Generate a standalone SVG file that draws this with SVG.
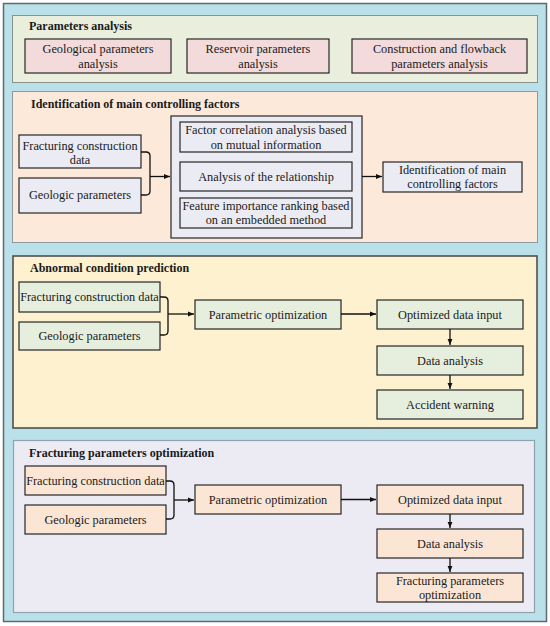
<svg xmlns="http://www.w3.org/2000/svg" width="550" height="626" viewBox="0 0 550 626" font-family="'Liberation Serif', 'Times New Roman', 'DejaVu Serif', serif">
<defs>
<marker id="ah" viewBox="0 0 10 10" refX="10" refY="5" markerWidth="6" markerHeight="6" markerUnits="userSpaceOnUse" orient="auto">
<path d="M0,1 L10,5 L0,9 Z" fill="#111"/>
</marker>
</defs>
<style>
text{font-family:'Liberation Serif','Times New Roman','DejaVu Serif',serif;font-size:12.3px;fill:#1a1a1a;text-anchor:middle}
.t{font-weight:bold;font-size:12px;text-anchor:start}
.b{stroke:#262626;stroke-width:1.2}
.p1{fill:#f2dbda}
.p2{fill:#ebebf3}
.p3{fill:#e6eedd}
.p4{fill:#fbe6d5}
.c{fill:none;stroke:#111;stroke-width:1.3}
</style>
<rect x="3.5" y="3.5" width="543" height="618" fill="#bae0e9" stroke="#5f6a70" stroke-width="1.5"/>

<g id="sec1">
<rect x="12.5" y="15.5" width="525" height="67" fill="#e9efdc" stroke="#85948c" stroke-width="1"/>
<text class="t" x="29" y="30">Parameters analysis</text>
</g>
<g id="geo1"><rect class="b p1" x="25" y="39" width="146" height="34"/><text x="98" y="53">Geological parameters</text><text x="98" y="68">analysis</text></g>
<g id="res1"><rect class="b p1" x="187" y="39" width="142" height="34"/><text x="258" y="53">Reservoir parameters</text><text x="258" y="68">analysis</text></g>
<g id="con1"><rect class="b p1" x="352" y="39" width="175" height="34"/><text x="439.5" y="53">Construction and flowback</text><text x="439.5" y="68">parameters analysis</text></g>

<g id="sec2">
<rect x="12.5" y="91.5" width="525" height="151" fill="#fde9da" stroke="#8c9aa0" stroke-width="1"/>
<text class="t" x="31" y="108">Identification of main controlling factors</text>
</g>
<g id="frac2"><rect class="b p2" x="19" y="135" width="122" height="33"/><text x="80" y="150">Fracturing construction</text><text x="80" y="164">data</text></g>
<g id="geol2"><rect class="b p2" x="19" y="178" width="122" height="35"/><text x="80" y="199">Geologic parameters</text></g>
<g id="cont2"><rect class="b p2" x="171" y="116" width="191" height="122"/></g>
<g id="fc2"><rect class="b p2" x="180" y="122" width="172" height="30"/><text x="266" y="134">Factor correlation analysis based</text><text x="266" y="149">on mutual information</text></g>
<g id="ar2"><rect class="b p2" x="180" y="162" width="172" height="29"/><text x="266" y="181">Analysis of the relationship</text></g>
<g id="fi2"><rect class="b p2" x="180" y="198" width="172" height="30"/><text x="266" y="210">Feature importance ranking based</text><text x="266" y="224">on an embedded method</text></g>
<g id="id2"><rect class="b p2" x="383" y="162" width="139" height="30"/><text x="452.5" y="174">Identification of main</text><text x="452.5" y="188">controlling factors</text></g>

<g id="sec3">
<rect x="13" y="256" width="524" height="172" fill="#fdf1cf" stroke="#4f4f4f" stroke-width="1.6"/>
<text class="t" x="30" y="272">Abnormal condition prediction</text>
</g>
<g id="frac3"><rect class="b p3" x="19" y="282" width="141" height="30"/><text x="89.5" y="301">Fracturing construction data</text></g>
<g id="geol3"><rect class="b p3" x="19" y="322" width="141" height="28"/><text x="89.5" y="340">Geologic parameters</text></g>
<g id="par3"><rect class="b p3" x="195" y="300" width="146" height="29"/><text x="268" y="319">Parametric optimization</text></g>
<g id="opt3"><rect class="b p3" x="377" y="300" width="146" height="29"/><text x="450" y="319">Optimized data input</text></g>
<g id="da3"><rect class="b p3" x="377" y="346" width="146" height="29"/><text x="450" y="365">Data analysis</text></g>
<g id="aw3"><rect class="b p3" x="377" y="390" width="146" height="29"/><text x="450" y="409">Accident warning</text></g>

<g id="sec4">
<rect x="13.5" y="440.5" width="521" height="172" fill="#ecebf4" stroke="#8fa3ad" stroke-width="1.2"/>
<text class="t" x="29" y="457">Fracturing parameters optimization</text>
</g>
<g id="frac4"><rect class="b p4" x="25" y="466" width="141" height="29"/><text x="95.5" y="485">Fracturing construction data</text></g>
<g id="geol4"><rect class="b p4" x="25" y="505" width="141" height="29"/><text x="95.5" y="524">Geologic parameters</text></g>
<g id="par4"><rect class="b p4" x="195" y="485" width="146" height="29"/><text x="268" y="504">Parametric optimization</text></g>
<g id="opt4"><rect class="b p4" x="377" y="485" width="146" height="29"/><text x="450" y="504">Optimized data input</text></g>
<g id="da4"><rect class="b p4" x="377" y="529" width="146" height="29"/><text x="450" y="548">Data analysis</text></g>
<g id="fpo4"><rect class="b p4" x="377" y="573" width="146" height="29"/><text x="450" y="585">Fracturing parameters</text><text x="450" y="599">optimization</text></g>

<g id="connectors">
<path class="c" d="M141,152 H146 Q150,152 150,156 V191 Q150,195 146,195 H141"/>
<path class="c" d="M150,176.5 H170" marker-end="url(#ah)"/>
<path class="c" d="M362,176.5 H382" marker-end="url(#ah)"/>

<path class="c" d="M160,297 H164 Q168,297 168,301 V331 Q168,335 164,335 H160"/>
<path class="c" d="M168,314 H194" marker-end="url(#ah)"/>
<path class="c" d="M341,314 H376" marker-end="url(#ah)"/>
<path class="c" d="M450,329 V345" marker-end="url(#ah)"/>
<path class="c" d="M450,375 V389" marker-end="url(#ah)"/>

<path class="c" d="M166,481 H170 Q174,481 174,485 V515 Q174,519 170,519 H166"/>
<path class="c" d="M174,500 H194" marker-end="url(#ah)"/>
<path class="c" d="M341,499.5 H376" marker-end="url(#ah)"/>
<path class="c" d="M450,514 V528" marker-end="url(#ah)"/>
<path class="c" d="M450,558 V572" marker-end="url(#ah)"/>
</g>
</svg>
